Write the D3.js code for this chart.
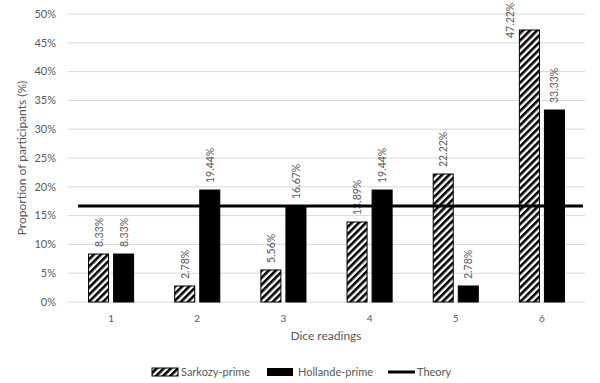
<!DOCTYPE html>
<html>
<head>
<meta charset="utf-8">
<script src="https://cdn.jsdelivr.net/npm/d3@7"></script>
<style>
  body { margin: 0; background: #fff; }
  text { font-family: Lato, "Open Sans", sans-serif; fill: #595959; }
</style>
</head>
<body>
<svg id="chart" width="600" height="383"></svg>
<script>
var categories = ["1", "2", "3", "4", "5", "6"];
var seriesNames = ["Sarkozy-prime", "Hollande-prime"];
var sarkozy = [8.33, 2.78, 5.56, 13.89, 22.22, 47.22];
var hollande = [8.33, 19.44, 16.67, 19.44, 2.78, 33.33];
var theory = 16.67;
var yTicks = [0, 5, 10, 15, 20, 25, 30, 35, 40, 45, 50];

var svg = d3.select("#chart");
var plotLeft = 68, plotRight = 585, plotTop = 14, plotBottom = 302;

var defs = svg.append("defs");
var pat = defs.append("pattern").attr("id", "hatch")
    .attr("patternUnits", "userSpaceOnUse")
    .attr("width", 5).attr("height", 5)
    .attr("patternTransform", "rotate(45)");
pat.append("rect").attr("width", 5).attr("height", 5).attr("fill", "#fff");
pat.append("rect").attr("width", 2.6).attr("height", 5).attr("fill", "#000");

var x = d3.scaleBand().domain(categories).range([plotLeft, plotRight]);
var x1 = d3.scaleBand().domain(seriesNames).range([0, x.bandwidth()])
    .paddingInner(0.2).paddingOuter(0.82);
var y = d3.scaleLinear().domain([0, 50]).range([plotBottom, plotTop]);

// gridlines
svg.append("g").selectAll("line").data(yTicks).enter().append("line")
    .attr("x1", plotLeft).attr("x2", plotRight)
    .attr("y1", function(d){ return y(d); }).attr("y2", function(d){ return y(d); })
    .attr("stroke", "#d9d9d9").attr("stroke-width", 1);

// y tick labels
svg.append("g").selectAll("text").data(yTicks).enter().append("text")
    .attr("x", 56).attr("y", function(d){ return y(d); })
    .attr("dy", "0.35em").attr("text-anchor", "end")
    .style("font-size", "11px")
    .text(function(d){ return d + "%"; });

// x tick labels
svg.append("g").selectAll("text").data(categories).enter().append("text")
    .attr("x", function(d){ return x(d) + x.bandwidth() / 2; })
    .attr("y", 322).attr("text-anchor", "middle")
    .style("font-size", "10px")
    .text(function(d){ return d; });

var series = [
  {name: "Sarkozy-prime", values: sarkozy, fill: "url(#hatch)"},
  {name: "Hollande-prime", values: hollande, fill: "#000"}
];

series.forEach(function(s){
  var g = svg.append("g");
  g.selectAll("rect").data(s.values).enter().append("rect")
      .attr("x", function(d, i){ return x(categories[i]) + x1(s.name); })
      .attr("y", function(d){ return y(d); })
      .attr("width", x1.bandwidth())
      .attr("height", function(d){ return plotBottom - y(d); })
      .attr("fill", s.fill)
      .attr("stroke", "#000").attr("stroke-width", 1);

  g.selectAll("text").data(s.values).enter().append("text")
      .attr("transform", function(d, i){
        var bx = x(categories[i]) + x1(s.name);
        var cx = bx + x1.bandwidth() / 2;
        // label doesn't fit above the bar -> put it beside the top, like excel does
        if (y(d) - 7 - 36 < 0)
          return "translate(" + (bx - 5) + "," + (y(d) + 8) + ") rotate(-90)";
        return "translate(" + (cx + 4) + "," + (y(d) - 7) + ") rotate(-90)";
      })
      .style("font-size", "10.5px")
      .text(function(d){ return d.toFixed(2) + "%"; });
});

// theory line
svg.append("line")
    .attr("x1", x(categories[0]) + 10).attr("x2", plotRight - 2)
    .attr("y1", y(theory)).attr("y2", y(theory))
    .attr("stroke", "#000").attr("stroke-width", 3);

// axis titles
svg.append("text")
    .attr("x", 326).attr("y", 340).attr("text-anchor", "middle")
    .style("font-size", "12px").text("Dice readings");
svg.append("text")
    .attr("transform", "translate(26," + ((plotTop + plotBottom) / 2) + ") rotate(-90)")
    .attr("text-anchor", "middle")
    .style("font-size", "12px").text("Proportion of participants (%)");

// legend
var lg = svg.append("g");
lg.append("rect").attr("x", 152).attr("y", 368).attr("width", 26).attr("height", 8)
    .attr("fill", "url(#hatch)").attr("stroke", "#000").attr("stroke-width", 1);
lg.append("text").attr("x", 181).attr("y", 372).attr("dy", "0.35em")
    .style("font-size", "11px").text("Sarkozy-prime");
lg.append("rect").attr("x", 267).attr("y", 368).attr("width", 26).attr("height", 8)
    .attr("fill", "#000");
lg.append("text").attr("x", 298).attr("y", 372).attr("dy", "0.35em")
    .style("font-size", "11px").text("Hollande-prime");
lg.append("line").attr("x1", 388).attr("x2", 415).attr("y1", 372).attr("y2", 372)
    .attr("stroke", "#000").attr("stroke-width", 3);
lg.append("text").attr("x", 417).attr("y", 372).attr("dy", "0.35em")
    .style("font-size", "11px").text("Theory");
</script>
</body>
</html>
